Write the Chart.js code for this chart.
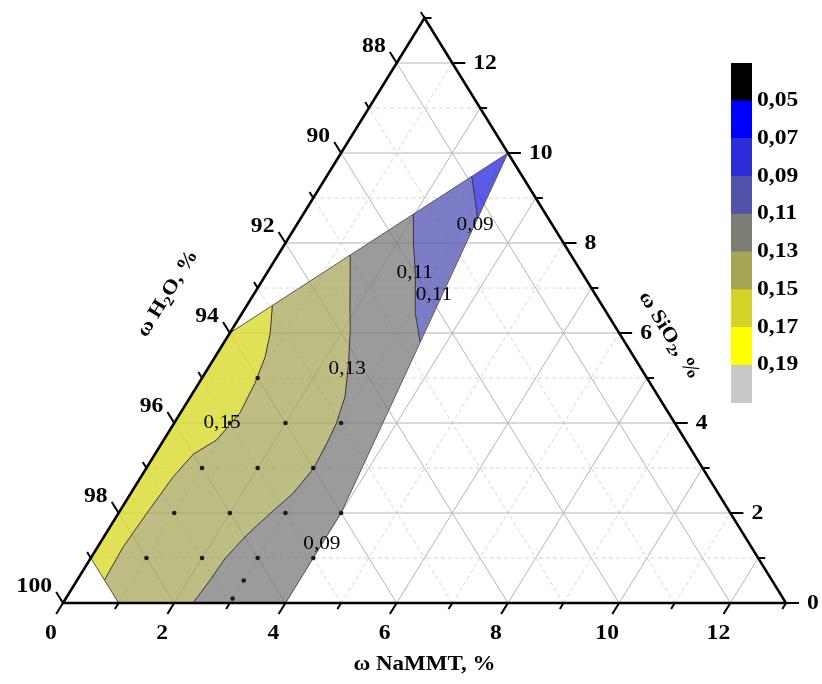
<!DOCTYPE html>
<html>
<head>
<meta charset="utf-8">
<script src="https://cdn.jsdelivr.net/npm/chart.js@4.4.0/dist/chart.umd.min.js"></script>
<style>
    html, body { margin: 0; padding: 0; background: #ffffff; }
    #wrap { position: relative; width: 822px; height: 684px; }
    #ternary { position: absolute; left: 0; top: 0; }
    #colorbar { position: absolute; left: 725px; top: 50px; }
</style>
</head>
<body>
<div id="wrap">
    <canvas id="ternary" width="822" height="684"></canvas>
    <canvas id="colorbar" width="90" height="370"></canvas>
</div>
<script>
// Axis ticks (labelled every 2 %)
const naTicks = [0, 2, 4, 6, 8, 10, 12];
const siTicks = [0, 2, 4, 6, 8, 10, 12];
const h2oTicks = [100, 98, 96, 94, 92, 90, 88];
const axisSpan = 13;

// Measured compositions, NaMMT / SiO2 in %
const sampleNaMMT = [1, 1, 2, 3, 1, 2, 3, 1, 2, 3, 4, 1, 2, 3, 4, 3, 3];
const sampleSiO2 = [5, 4, 4, 4, 3, 3, 3, 2, 2, 2, 2, 1, 1, 1, 1, 0.5, 0.1];

// Outline of the interpolated area [NaMMT, SiO2]
const outline = [[1, 0], [4, 0], [4, 2], [3, 10], [0, 6], [0, 1], [1, 0]];

// Iso-lines [NaMMT, SiO2], bottom to top
const iso015 = [[0.49, 0.51], [0.46, 1.25], [0.51, 1.99], [0.58, 2.81], [0.69, 3.31], [0.95, 3.62],
    [1.07, 4.22], [1.01, 4.88], [0.90, 5.47], [0.73, 5.99], [0.46, 6.61]];
const iso013 = [[2.34, 0], [2.39, 0.51], [2.42, 0.99], [2.55, 1.51], [2.73, 1.99], [2.92, 2.44],
    [3.01, 2.99], [2.97, 3.55], [2.92, 3.99], [2.78, 4.58], [2.47, 5.33], [2.13, 6.07],
    [1.87, 6.58], [1.30, 7.73]];
const iso011 = [[3.52, 5.8], [3.16, 6.37], [2.67, 7.33], [2.30, 8.0], [1.98, 8.64]];
const iso009 = [[3.18, 8.55], [2.61, 9.48]];

// Iso-line labels [NaMMT, SiO2, text]
const isoLabels = [
    [3.21, 8.4, '0,09'],
    [2.66, 7.33, '0,11'],
    [3.25, 6.84, '0,11'],
    [2.51, 5.2, '0,13'],
    [0.86, 4.0, '0,15'],
    [4.0, 1.31, '0,09']
];

// Colour scale, bottom to top
const levelLabels = ['0,19', '0,17', '0,15', '0,13', '0,11', '0,09', '0,07', '0,05'];
const levelColors = ['#c8c8c8', '#ffff00', '#d4d428', '#a5a555', '#7d7d73', '#5252aa', '#2d2dd7', '#0000ff', '#000000'];

const rev = arr => arr.slice().reverse();

// Filled bands between the iso-lines
const bands = [
    { pts: [[0, 1], ...iso015, [0, 6], [0, 1]], color: 'rgba(218, 218, 45, 0.8)' },
    { pts: [[1, 0], ...iso013, ...rev(iso015), [1, 0]], color: 'rgba(165, 165, 85, 0.72)' },
    { pts: [[4, 0], [4, 2], ...iso011, ...rev(iso013), [4, 0]], color: 'rgba(120, 120, 120, 0.74)' },
    { pts: [...iso009, ...rev(iso011), iso009[0]], color: 'rgba(80, 80, 180, 0.74)' },
    { pts: [...iso009, [3, 10], iso009[0]], color: 'rgba(45, 45, 225, 0.78)' }
];

// ternary -> chart coordinates
const toXY = pts => pts.map(([a, b]) => ({ x: a + b / 2, y: b }));

const SERIF = '"Liberation Serif", "Times New Roman", serif';
const STRETCH = 1.18;

function lineSet(pts, color, width, order, dash) {
    return {
        data: toXY(pts),
        showLine: true,
        borderColor: color,
        borderWidth: width,
        borderDash: dash || [],
        pointRadius: 0,
        fill: false,
        clip: false,
        order: order
    };
}

function buildDatasets() {
    const sets = [];

    // grid
    for (let k = 1; k < axisSpan; k++) {
        const even = k % 2 === 0;
        const color = even ? '#b4b4b4' : '#d4d4d4';
        const dash = even ? [] : [4, 3];
        sets.push(lineSet([[k, 0], [k, axisSpan - k]], color, 1, 40, dash));
        sets.push(lineSet([[0, k], [axisSpan - k, k]], color, 1, 40, dash));
        sets.push(lineSet([[k, 0], [0, k]], color, 1, 40, dash));
    }

    // colour bands
    bands.forEach(band => {
        sets.push({
            data: toXY(band.pts),
            showLine: true,
            borderWidth: 0,
            borderColor: 'rgba(0,0,0,0)',
            backgroundColor: band.color,
            fill: 'shape',
            pointRadius: 0,
            clip: false,
            order: 30
        });
    });

    // iso-lines and outline
    [iso015, iso013, iso011, iso009].forEach(iso => sets.push(lineSet(iso, '#333333', 1, 20)));
    sets.push(lineSet(outline, '#555555', 1, 20));

    // triangle
    sets.push(lineSet([[0, 0], [axisSpan, 0], [0, axisSpan], [0, 0]], '#000000', 2.5, 10));

    // sample points
    sets.push({
        data: sampleNaMMT.map((a, i) => ({ x: a + sampleSiO2[i] / 2, y: sampleSiO2[i] })),
        showLine: false,
        pointRadius: 2.3,
        pointBackgroundColor: '#1a1a1a',
        pointBorderWidth: 0,
        clip: false,
        order: 1
    });

    return sets;
}

function drawText(ctx, text, x, y, font, align, angle, stretch) {
    ctx.save();
    ctx.translate(x, y);
    if (angle) ctx.rotate(angle);
    ctx.scale(stretch || STRETCH, 1);
    ctx.font = font;
    ctx.textAlign = align;
    ctx.textBaseline = 'middle';
    ctx.fillStyle = '#000000';
    ctx.fillText(text, 0, 0);
    ctx.restore();
}

// title with a subscript part
function drawTitle(ctx, parts, x, y, angle) {
    const mainFont = 'bold 20px ' + SERIF;
    const subFont = 'bold 14px ' + SERIF;
    ctx.save();
    ctx.translate(x, y);
    ctx.rotate(angle);
    ctx.scale(1.12, 1);
    ctx.textBaseline = 'middle';
    ctx.textAlign = 'left';
    ctx.fillStyle = '#000000';
    let total = 0;
    parts.forEach(p => {
        ctx.font = p.sub ? subFont : mainFont;
        total += ctx.measureText(p.text).width;
    });
    let cx = -total / 2;
    parts.forEach(p => {
        ctx.font = p.sub ? subFont : mainFont;
        ctx.fillText(p.text, cx, p.sub ? 6 : 0);
        cx += ctx.measureText(p.text).width;
    });
    ctx.restore();
}

const ternaryAxes = {
    id: 'ternaryAxes',
    afterDatasetsDraw(chart) {
        const ctx = chart.ctx;
        const xs = chart.scales.x;
        const ys = chart.scales.y;
        const P = (a, b) => [xs.getPixelForValue(a + b / 2), ys.getPixelForValue(b)];
        const unit = (p, q) => {
            const dx = q[0] - p[0], dy = q[1] - p[1];
            const l = Math.hypot(dx, dy);
            return [dx / l, dy / l];
        };
        const dirBottom = unit(P(0, 1), P(0, 0));
        const dirLeft = unit(P(1, 0), P(0, 1));
        const dirRight = unit(P(0, 0), P(1, 0));

        // ticks
        ctx.save();
        ctx.strokeStyle = '#000000';
        ctx.lineWidth = 2;
        for (let k = 0; k <= axisSpan; k++) {
            const len = k % 2 === 0 ? 13 : 7;
            [[P(k, 0), dirBottom], [P(0, k), dirLeft], [P(axisSpan - k, k), dirRight]].forEach(([p, d]) => {
                ctx.beginPath();
                ctx.moveTo(p[0], p[1]);
                ctx.lineTo(p[0] + d[0] * len, p[1] + d[1] * len);
                ctx.stroke();
            });
        }
        ctx.restore();

        const tickFont = 'bold 20px ' + SERIF;
        naTicks.forEach(v => {
            const p = P(v, 0);
            drawText(ctx, String(v), p[0] - 12, p[1] + 31, tickFont, 'center');
        });
        h2oTicks.forEach(v => {
            const p = P(0, 100 - v);
            drawText(ctx, String(v), p[0] - 11, p[1] - 16, tickFont, 'right');
        });
        siTicks.forEach(v => {
            const p = P(axisSpan - v, v);
            drawText(ctx, String(v), p[0] + 21, p[1] + 1, tickFont, 'left');
        });

        // iso-line labels
        isoLabels.forEach(([a, b, t]) => {
            const p = P(a, b);
            drawText(ctx, t, p[0], p[1], '18px ' + SERIF, 'center');
        });

        // axis titles
        const bottomMid = P(axisSpan / 2, 0);
        drawText(ctx, 'ω NaMMT, %', bottomMid[0], bottomMid[1] + 62, 'bold 20px ' + SERIF, 'center', 0, 1.15);

        const leftEdge = unit(P(0, 0), P(0, axisSpan));
        const leftMid = P(0, axisSpan / 2);
        drawTitle(ctx, [{ text: 'ω H' }, { text: '2', sub: true }, { text: 'O, %' }],
            leftMid[0] - 76, leftMid[1] - 17, Math.atan2(leftEdge[1], leftEdge[0]));

        const rightEdge = unit(P(0, axisSpan), P(axisSpan, 0));
        const rightMid = P(axisSpan / 2, axisSpan / 2);
        drawTitle(ctx, [{ text: 'ω SiO' }, { text: '2', sub: true }, { text: ', %' }],
            rightMid[0] + 64, rightMid[1] + 25, Math.atan2(rightEdge[1], rightEdge[0]));
    }
};

new Chart(document.getElementById('ternary'), {
    type: 'scatter',
    data: { datasets: buildDatasets() },
    options: {
        responsive: false,
        animation: false,
        events: [],
        devicePixelRatio: 1,
        layout: { padding: { left: 63, right: 36, top: 18, bottom: 81 } },
        scales: {
            x: { type: 'linear', min: 0, max: axisSpan, display: false },
            y: { type: 'linear', min: 0, max: axisSpan, display: false }
        },
        plugins: {
            legend: { display: false },
            tooltip: { enabled: false }
        }
    },
    plugins: [ternaryAxes]
});

// Colour scale
const colorbarLabels = {
    id: 'colorbarLabels',
    afterDraw(chart) {
        const ys = chart.scales.y;
        const x = chart.chartArea.right + 5;
        levelLabels.forEach((t, i) => {
            drawText(chart.ctx, t, x, ys.getPixelForValue(i + 1), 'bold 20px ' + SERIF, 'left');
        });
    }
};

new Chart(document.getElementById('colorbar'), {
    type: 'bar',
    data: {
        labels: [''],
        datasets: levelColors.map(c => ({
            data: [1],
            backgroundColor: c,
            borderWidth: 0,
            barPercentage: 1,
            categoryPercentage: 1
        }))
    },
    options: {
        responsive: false,
        animation: false,
        events: [],
        devicePixelRatio: 1,
        layout: { padding: { left: 6, right: 63, top: 13, bottom: 17 } },
        scales: {
            x: { stacked: true, display: false },
            y: { stacked: true, display: false, min: 0, max: levelColors.length }
        },
        plugins: {
            legend: { display: false },
            tooltip: { enabled: false }
        }
    },
    plugins: [colorbarLabels]
});
</script>
</body>
</html>
